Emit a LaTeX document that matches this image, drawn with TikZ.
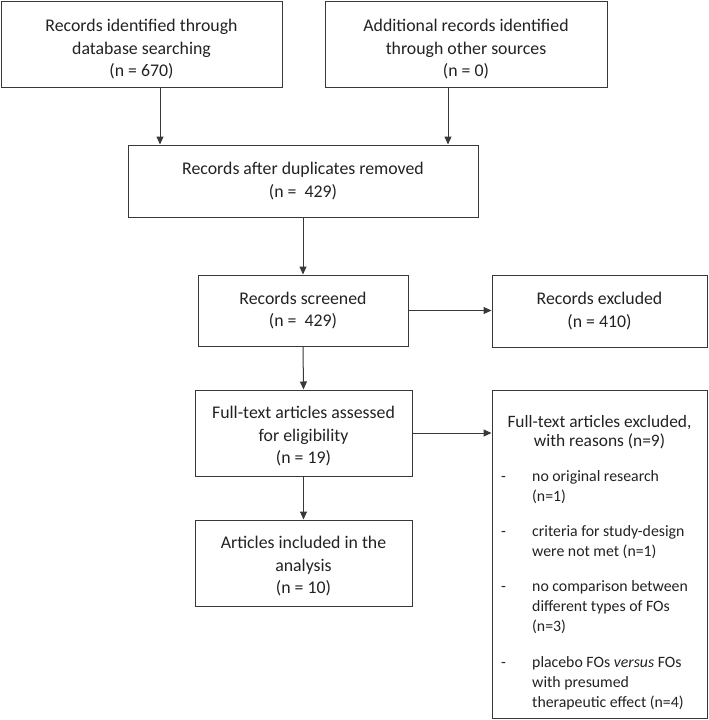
\documentclass[tikz,border=0pt]{standalone}
\usepackage{fontspec}
\setmainfont{Carlito}
\usetikzlibrary{arrows.meta,calc}
\definecolor{txt}{HTML}{222222}
\definecolor{ln}{HTML}{383838}
\begin{document}
\begin{tikzpicture}[x=1pt,y=-1pt,
  box/.style={draw=ln,line width=1pt,rectangle,inner sep=0pt,align=center,text=txt,
    font=\fontsize{17.8}{22.5}\selectfont},
  arr/.style={draw=ln,line width=1pt,-{Triangle[length=8pt,width=7pt]}},
  ttl/.style={text=txt,inner sep=0pt,anchor=base,font=\fontsize{17.4}{19}\selectfont},
  itm/.style={text=txt,inner sep=0pt,anchor=base west,font=\fontsize{15.8}{20}\selectfont}]
\useasboundingbox (0,0) rectangle (709,720);
\node[box,minimum width=281pt,minimum height=86pt] (b1) at (141.5,44)
  {\rule{0pt}{23pt}Records identified through\\database searching\\(n = 670)};
\node[box,minimum width=282pt,minimum height=86pt] (b2) at (466,44)
  {\rule{0pt}{23pt}Additional records identified\\through other sources\\(n = 0)};
\node[box,minimum width=350pt,minimum height=72pt] (b3) at (303,181)
  {Records after duplicates removed\\(n =\ \ 429)};
\node[box,minimum width=210pt,minimum height=71pt] (b4) at (303,310.5)
  {Records screened\\(n =\ \ 429)};
\node[box,minimum width=215pt,minimum height=72pt] (re) at (599.5,311)
  {Records excluded\\(n = 410)};
\node[box,minimum width=217pt,minimum height=86pt] (b5) at (303.5,433)
  {\rule{0pt}{19pt}Full-text articles assessed\\for eligibility\\(n = 19)};
\node[box,minimum width=217pt,minimum height=86pt] (b6) at (303.5,563)
  {\rule{0pt}{19pt}Articles included in the\\analysis\\(n = 10)};
\node[box,minimum width=215pt,minimum height=328pt] (ex) at (599.5,554) {};
% texts inside excluded box
\node[ttl] (t1) at (599.5,427) {Full-text articles excluded,};
\node[ttl] (t2) at (599.5,446) {with reasons (n=9)};
\foreach \yy/\tt [count=\i] in {481/no original research,501/(n=1),
  536/criteria for study-design,556/were not met (n=1),
  591/no comparison between,611/different types of FOs,631/(n=3),
  667/placebo FOs \textit{versus} FOs,687/with presumed,707/therapeutic effect (n=4)}
  \node[itm] (l\i) at (532,\yy) {\tt};
\foreach \yy [count=\i] in {481,536,591,667}
  \node[itm] (d\i) at (501,\yy) {-};
% connectors
\path (b1.south) ++(18.5,0) coordinate (a1);
\path (b2.south) ++(-18,0) coordinate (a2);
\draw[arr] (a1) -- (a1 |- b3.north);
\draw[arr] (a2) -- (a2 |- b3.north);
\draw[arr] (b3.south) -- (b4.north);
\draw[arr] (b4.east) -- (b4.east -| re.west);
\draw[arr] (b4.south) -- (b5.north);
\draw[arr] (b5.east) -- (b5.east -| ex.west);
\draw[arr] (b5.south) -- (b6.north);
\end{tikzpicture}
\end{document}
